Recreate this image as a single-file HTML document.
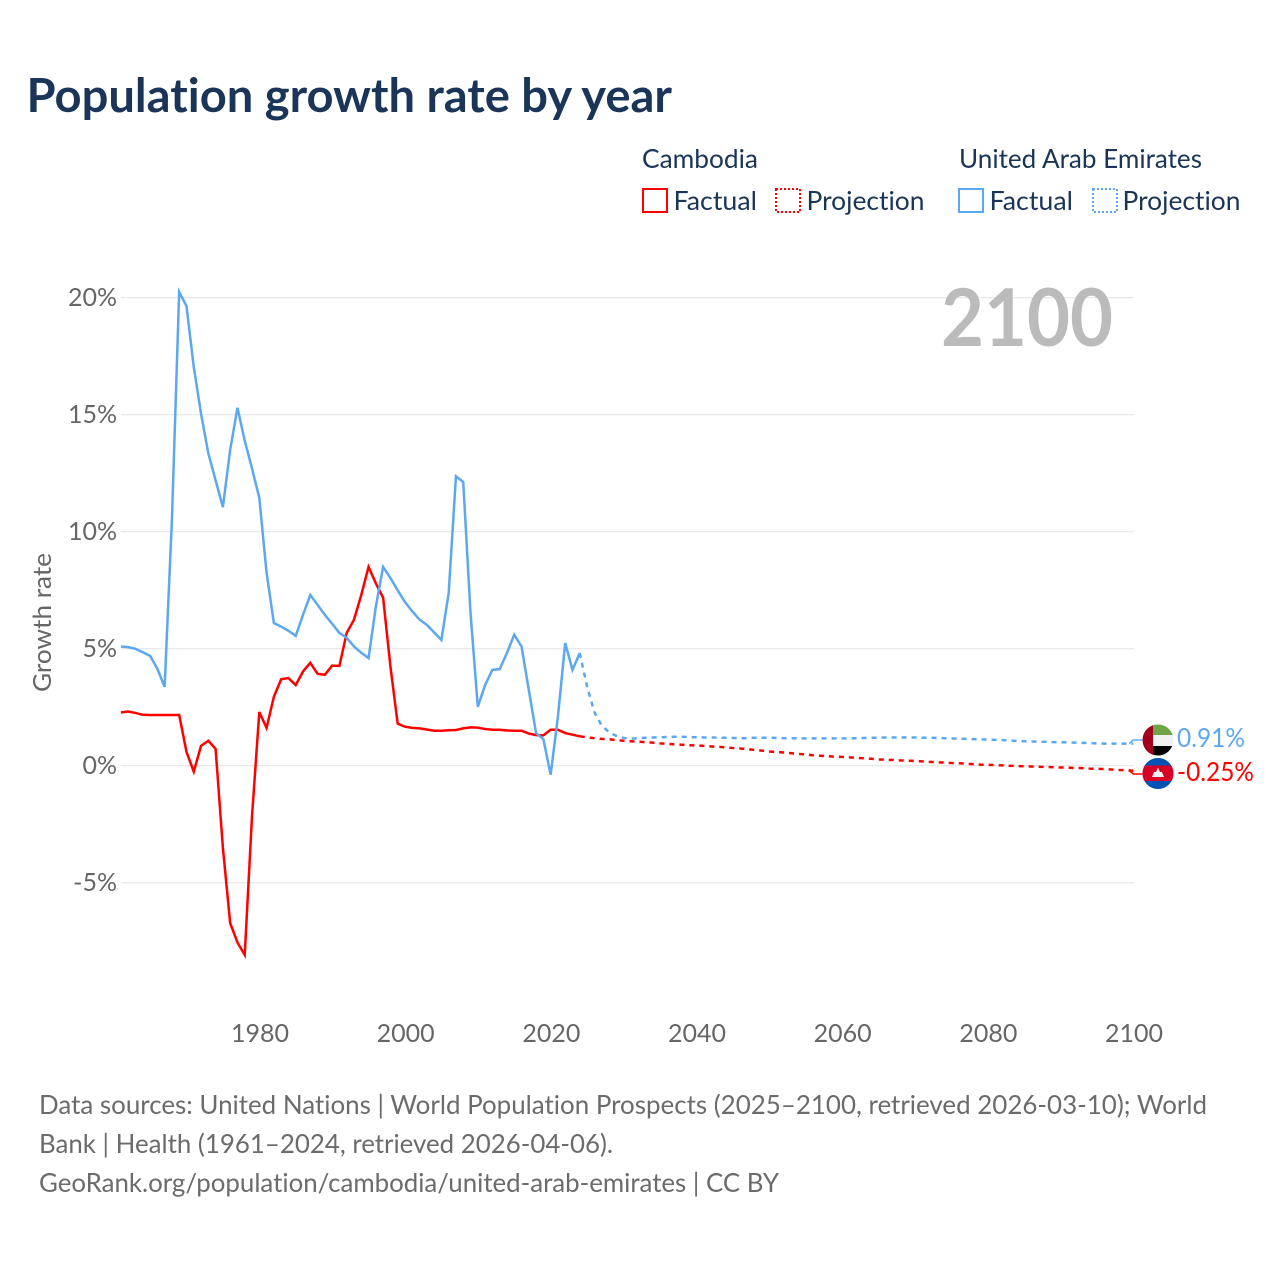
<!DOCTYPE html>
<html lang="en">
<head>
<meta charset="utf-8">
<title>Population growth rate by year</title>
<style>
html,body{margin:0;padding:0;background:#fff;width:1280px;height:1280px;overflow:hidden}
svg{display:block}
text{font-family:"Lato","Carlito","Liberation Sans",sans-serif;font-variant-ligatures:none;font-feature-settings:"liga" 0}
</style>
</head>
<body>
<svg id="chart" xmlns="http://www.w3.org/2000/svg" width="1280" height="1280" viewBox="0 0 1280 1280">
  <rect x="0" y="0" width="1280" height="1280" fill="#fff"/>
  <text x="26.5" y="112" font-size="47" font-weight="700" fill="#1a3557" textLength="645.5" lengthAdjust="spacingAndGlyphs">Population growth rate by year</text>

  <g font-size="26.5" fill="#1a3557">
    <text x="642" y="168" textLength="116" lengthAdjust="spacingAndGlyphs">Cambodia</text>
    <text x="959" y="168" textLength="243" lengthAdjust="spacingAndGlyphs">United Arab Emirates</text>
    <rect x="643" y="189" width="24" height="23" fill="none" stroke="#ff0000" stroke-width="2"/>
    <text x="673.5" y="210" textLength="83.5" lengthAdjust="spacingAndGlyphs">Factual</text>
    <rect x="776" y="189" width="24" height="23" fill="none" stroke="#ff0000" stroke-width="2" stroke-dasharray="2 2"/>
    <text x="806.5" y="210" textLength="118" lengthAdjust="spacingAndGlyphs">Projection</text>
    <rect x="959" y="189" width="24" height="23" fill="none" stroke="#5ca8f0" stroke-width="2"/>
    <text x="989.5" y="210" textLength="83.5" lengthAdjust="spacingAndGlyphs">Factual</text>
    <rect x="1093" y="189" width="24" height="23" fill="none" stroke="#5ca8f0" stroke-width="2" stroke-dasharray="2 2"/>
    <text x="1122.5" y="210" textLength="118" lengthAdjust="spacingAndGlyphs">Projection</text>
  </g>

  <g id="grid"></g>
  <g id="yticks" font-size="25" fill="#666666"></g>
  <g id="xticks" font-size="25" fill="#666666"></g>
  <text transform="translate(51,692) rotate(-90)" font-size="25" fill="#666666" textLength="139" lengthAdjust="spacingAndGlyphs">Growth rate</text>
  <text x="941" y="346" font-size="80" font-weight="700" fill="#bbbbbb" textLength="172" lengthAdjust="spacingAndGlyphs">2100</text>

  <g id="series"></g>

  <g>
    <clipPath id="clip-uae"><circle cx="1158" cy="740" r="15.5"/></clipPath>
    <g clip-path="url(#clip-uae)">
      <rect x="1142" y="724" width="32" height="11" fill="#6da544"/>
      <rect x="1142" y="735" width="32" height="11" fill="#f0f0f0"/>
      <rect x="1142" y="746" width="32" height="11" fill="#000"/>
      <rect x="1142" y="724" width="11" height="33" fill="#a2001d"/>
    </g>
  </g>
  <g>
    <clipPath id="clip-kh"><circle cx="1158" cy="773.5" r="15.5"/></clipPath>
    <g clip-path="url(#clip-kh)">
      <rect x="1142" y="757" width="32" height="33" fill="#0052b4"/>
      <rect x="1142" y="765.5" width="32" height="15.5" fill="#d80027"/>
      <polygon points="1152,777 1154,772 1156,772 1158,767.5 1160,772 1162,772 1164,777" fill="#f0f0f0"/>
    </g>
  </g>
  <text x="1177" y="747" font-size="26.5" fill="#5ca8f0" textLength="68" lengthAdjust="spacingAndGlyphs">0.91%</text>
  <text x="1177" y="781" font-size="26.5" fill="#ff0000" textLength="77" lengthAdjust="spacingAndGlyphs">-0.25%</text>

  <g font-size="26" fill="#6b6b6b">
    <text x="39" y="1114" textLength="1168" lengthAdjust="spacingAndGlyphs">Data sources: United Nations | World Population Prospects (2025–2100, retrieved 2026-03-10); World</text>
    <text x="39" y="1153" textLength="574" lengthAdjust="spacingAndGlyphs">Bank | Health (1961–2024, retrieved 2026-04-06).</text>
    <text x="39" y="1192" textLength="740" lengthAdjust="spacingAndGlyphs">GeoRank.org/population/cambodia/united-arab-emirates | CC BY</text>
  </g>
</svg>
<script>
const xTickYears = [1980, 2000, 2020, 2040, 2060, 2080, 2100];
const yTickValues = [20, 15, 10, 5, 0, -5];
const yTickLabels = ["20%", "15%", "10%", "5%", "0%", "-5%"];
const factualStartYear = 1961;
const projectionStartYear = 2024;

const cambodiaFactual = [2.28,2.32,2.26,2.18,2.17,2.17,2.17,2.17,2.17,0.6,-0.25,0.85,1.07,0.72,-3.5,-6.72,-7.55,-8.08,-2.15,2.3,1.62,2.95,3.7,3.75,3.45,4.03,4.4,3.93,3.89,4.28,4.27,5.68,6.24,7.3,8.5,7.8,7.18,4.25,1.8,1.67,1.62,1.6,1.55,1.5,1.5,1.52,1.53,1.6,1.64,1.63,1.57,1.54,1.54,1.51,1.5,1.5,1.38,1.31,1.3,1.54,1.54,1.4,1.33,1.26];
const uaeFactual = [5.1,5.07,5.0,4.85,4.7,4.15,3.37,10.5,20.25,19.65,17.05,15.05,13.35,12.2,11.05,13.5,15.3,13.9,12.7,11.45,8.25,6.1,5.95,5.77,5.55,6.45,7.3,6.88,6.45,6.07,5.68,5.47,5.1,4.83,4.6,6.8,8.5,8.03,7.5,7.0,6.6,6.25,6.02,5.7,5.38,7.38,12.37,12.13,6.53,2.52,3.45,4.1,4.13,4.82,5.6,5.1,3.25,1.4,1.14,-0.38,2.1,5.25,4.1,4.82];
const cambodiaProjection = [1.26,1.22,1.18,1.15,1.13,1.1,1.07,1.05,1.03,1.01,0.99,0.96,0.94,0.92,0.9,0.88,0.87,0.85,0.83,0.81,0.79,0.76,0.74,0.71,0.68,0.65,0.61,0.59,0.57,0.54,0.51,0.48,0.45,0.43,0.41,0.39,0.38,0.36,0.34,0.32,0.3,0.27,0.26,0.25,0.23,0.22,0.21,0.19,0.17,0.15,0.14,0.12,0.11,0.09,0.07,0.05,0.04,0.03,0.02,0,-0.01,-0.02,-0.03,-0.04,-0.05,-0.06,-0.07,-0.08,-0.09,-0.1,-0.12,-0.13,-0.14,-0.16,-0.18,-0.19,-0.21];
const uaeProjection = [4.82,3.38,2.3,1.72,1.44,1.28,1.19,1.16,1.18,1.2,1.21,1.22,1.23,1.24,1.24,1.23,1.22,1.21,1.21,1.2,1.2,1.19,1.18,1.18,1.2,1.2,1.2,1.19,1.18,1.18,1.17,1.17,1.17,1.17,1.17,1.17,1.17,1.17,1.18,1.19,1.2,1.2,1.21,1.21,1.21,1.21,1.21,1.2,1.2,1.19,1.18,1.17,1.16,1.15,1.14,1.13,1.12,1.11,1.1,1.08,1.06,1.05,1.04,1.03,1.02,1.01,1.01,1,0.99,0.98,0.97,0.96,0.95,0.95,0.95,0.95,0.95];

const NS = 'http://www.w3.org/2000/svg';
function xScale(year) { return 259.3 + (year - 1980) * (874 / 120); }
function yScale(value) { return 765.8 - value * 23.4; }
function make(tag, attrs, parent) {
  const el = document.createElementNS(NS, tag);
  for (const k in attrs) el.setAttribute(k, attrs[k]);
  parent.appendChild(el);
  return el;
}
function linePath(values, startYear) {
  return values.map(function (v, i) {
    return (i ? 'L' : 'M') + xScale(startYear + i).toFixed(2) + ' ' + yScale(v).toFixed(2);
  }).join(' ');
}

const gridGroup = document.getElementById('grid');
const yTickGroup = document.getElementById('yticks');
const xTickGroup = document.getElementById('xticks');
const seriesGroup = document.getElementById('series');

yTickValues.forEach(function (v, i) {
  const line = make('line', {x1: 121, x2: 1134, y1: yScale(v), y2: yScale(v), stroke: '#e2e2e2', 'stroke-width': 1}, gridGroup);
  
  
  const label = make('text', {x: 117, y: yScale(v) + 8, 'text-anchor': 'end'}, yTickGroup);
  
  
  label.textContent = yTickLabels[i];
});

xTickYears.forEach(function (year) {
  const label = make('text', {x: xScale(year) + 0.7, y: 1042, 'text-anchor': 'middle'}, xTickGroup);
  
  
  label.textContent = year;
});

function drawSeries(name, color, factual, projection) {
  const solid = make('path', {d: linePath(factual, factualStartYear), fill: 'none', stroke: color, 'stroke-width': 2.5, 'stroke-linejoin': 'miter'}, seriesGroup);
  
  
  const dashed = make('path', {d: linePath(projection, projectionStartYear), fill: 'none', stroke: color, 'stroke-width': 2.5, 'stroke-dasharray': '5 5'}, seriesGroup);
  
  
}
drawSeries('cambodia', '#ff0000', cambodiaFactual, cambodiaProjection);
drawSeries('uae', '#5ca8f0', uaeFactual, uaeProjection);

function drawConnector(name, color, lastValue, flagY) {
  const endX = xScale(2100);
  const endY = yScale(lastValue);
  const path = make('path', {d: 'M' + (endX - 4) + ' ' + endY + ' L' + endX + ' ' + flagY + ' L' + (endX + 9) + ' ' + flagY, fill: 'none', stroke: color, 'stroke-width': 1.5}, seriesGroup);
  
  
}
drawConnector('cambodia', '#ff0000', cambodiaProjection[cambodiaProjection.length - 1], 774);
drawConnector('uae', '#5ca8f0', uaeProjection[uaeProjection.length - 1], 740);
</script>
</body>
</html>
